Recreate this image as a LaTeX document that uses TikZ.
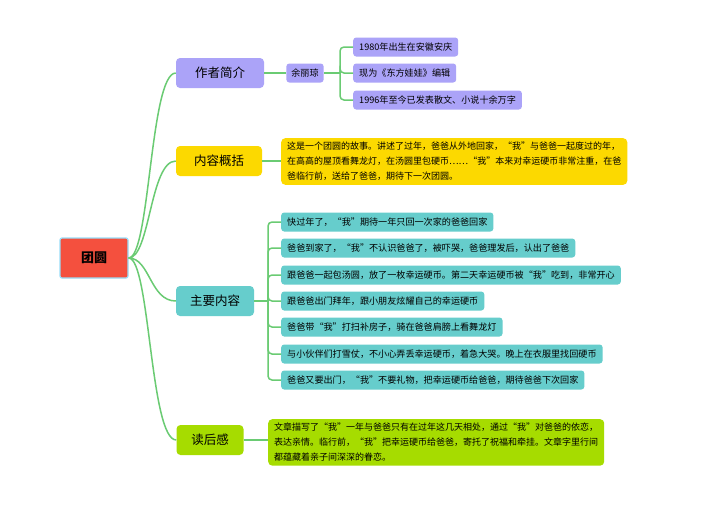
\documentclass[tikz,border=0pt]{standalone}
\usepackage{fontspec}
\setmainfont{Noto Sans CJK SC}
\begin{document}
\begin{tikzpicture}[x=1pt,y=-1pt,
  line/.style={draw=lnk,line width=1.5pt},
  leaf/.style={rounded corners=3pt,anchor=west,inner xsep=6pt,minimum height=19pt,font=\fontsize{9.1}{10}\selectfont},
  br/.style={rounded corners=4pt,minimum height=30pt,font=\fontsize{12.5}{14}\selectfont},
  para/.style={rounded corners=4pt,anchor=north west,align=left,inner xsep=6pt,inner ysep=4pt,font=\fontsize{9}{15}\selectfont}]
\definecolor{lnk}{HTML}{6ACB73}
\definecolor{pur}{HTML}{ABA3F8}
\definecolor{yel}{HTML}{FCD900}
\definecolor{tea}{HTML}{66CDCC}
\definecolor{grn}{HTML}{A6DC00}
\definecolor{rootc}{HTML}{F4503E}
\useasboundingbox (0,0) rectangle (704,504);
\fill[white] (0,0) rectangle (704,504);
\node[draw=cyan!40,line width=1.2pt,fill=rootc,rounded corners=2pt,minimum width=68pt,minimum height=40pt,font=\fontsize{13}{15}\selectfont\bfseries] (root) at (94,258) {团圆};
\node[br,fill=pur,minimum width=88pt] (a) at (220,73) {作者简介};
\node[br,fill=yel,minimum width=86pt] (b) at (219,161) {内容概括};
\node[br,fill=tea,minimum width=78pt] (c) at (215,301) {主要内容};
\node[br,fill=grn,minimum width=67pt] (d) at (210,440) {读后感};
\foreach \n in {a,b,c,d}
  \draw[line] (root.east) .. controls (150,258) and (150,0 |- \n.west) .. (\n.west);
\node[leaf,fill=pur,anchor=center,inner xsep=5pt] (yu) at (305,73) {余丽琼};
\draw[line] (a.east) -- (yu.west);
\coordinate (ja) at (340,73);
\draw[line] (yu.east) -- (ja);
\foreach \t/\y [count=\i] in {1980年出生在安徽安庆/47,现为《东方娃娃》编辑/73,1996年至今已发表散文、小说十余万字/100}{
  \node[leaf,fill=pur] (p\i) at (353,\y) {\t};
  \draw[line,rounded corners=4pt] (ja) -- (340,\y) -- (p\i.west);
}
\node[para,fill=yel] (bt) at (281,138) {这是一个团圆的故事。讲述了过年，爸爸从外地回家，“我”与爸爸一起度过的年，\\在高高的屋顶看舞龙灯，在汤圆里包硬币……“我”本来对幸运硬币非常注重，在爸\\爸临行前，送给了爸爸，期待下一次团圆。};
\draw[line] (b.east) -- (bt.west |- b.east);
\coordinate (jc) at (268,301);
\draw[line] (c.east) -- (jc);
\foreach \t/\y [count=\i] in {快过年了，“我”期待一年只回一次家的爸爸回家/222,
 爸爸到家了，“我”不认识爸爸了，被吓哭，爸爸理发后，认出了爸爸/248,
 跟爸爸一起包汤圆，放了一枚幸运硬币。第二天幸运硬币被“我”吃到，非常开心/275,
 跟爸爸出门拜年，跟小朋友炫耀自己的幸运硬币/301,
 爸爸带“我”打扫补房子，骑在爸爸肩膀上看舞龙灯/327,
 与小伙伴们打雪仗，不小心弄丢幸运硬币，着急大哭。晚上在衣服里找回硬币/354,
 爸爸又要出门，“我”不要礼物，把幸运硬币给爸爸，期待爸爸下次回家/380}{
  \node[leaf,fill=tea] (t\i) at (281,\y) {\t};
  \draw[line,rounded corners=4pt] (jc) -- (268,\y) -- (t\i.west);
}
\node[para,fill=grn] (dt) at (268,419) {文章描写了“我”一年与爸爸只有在过年这几天相处，通过“我”对爸爸的依恋，\\表达亲情。临行前，“我”把幸运硬币给爸爸，寄托了祝福和牵挂。文章字里行间\\都蕴藏着亲子间深深的眷恋。};
\draw[line] (d.east) -- (dt.west |- d.east);
\end{tikzpicture}
\end{document}
